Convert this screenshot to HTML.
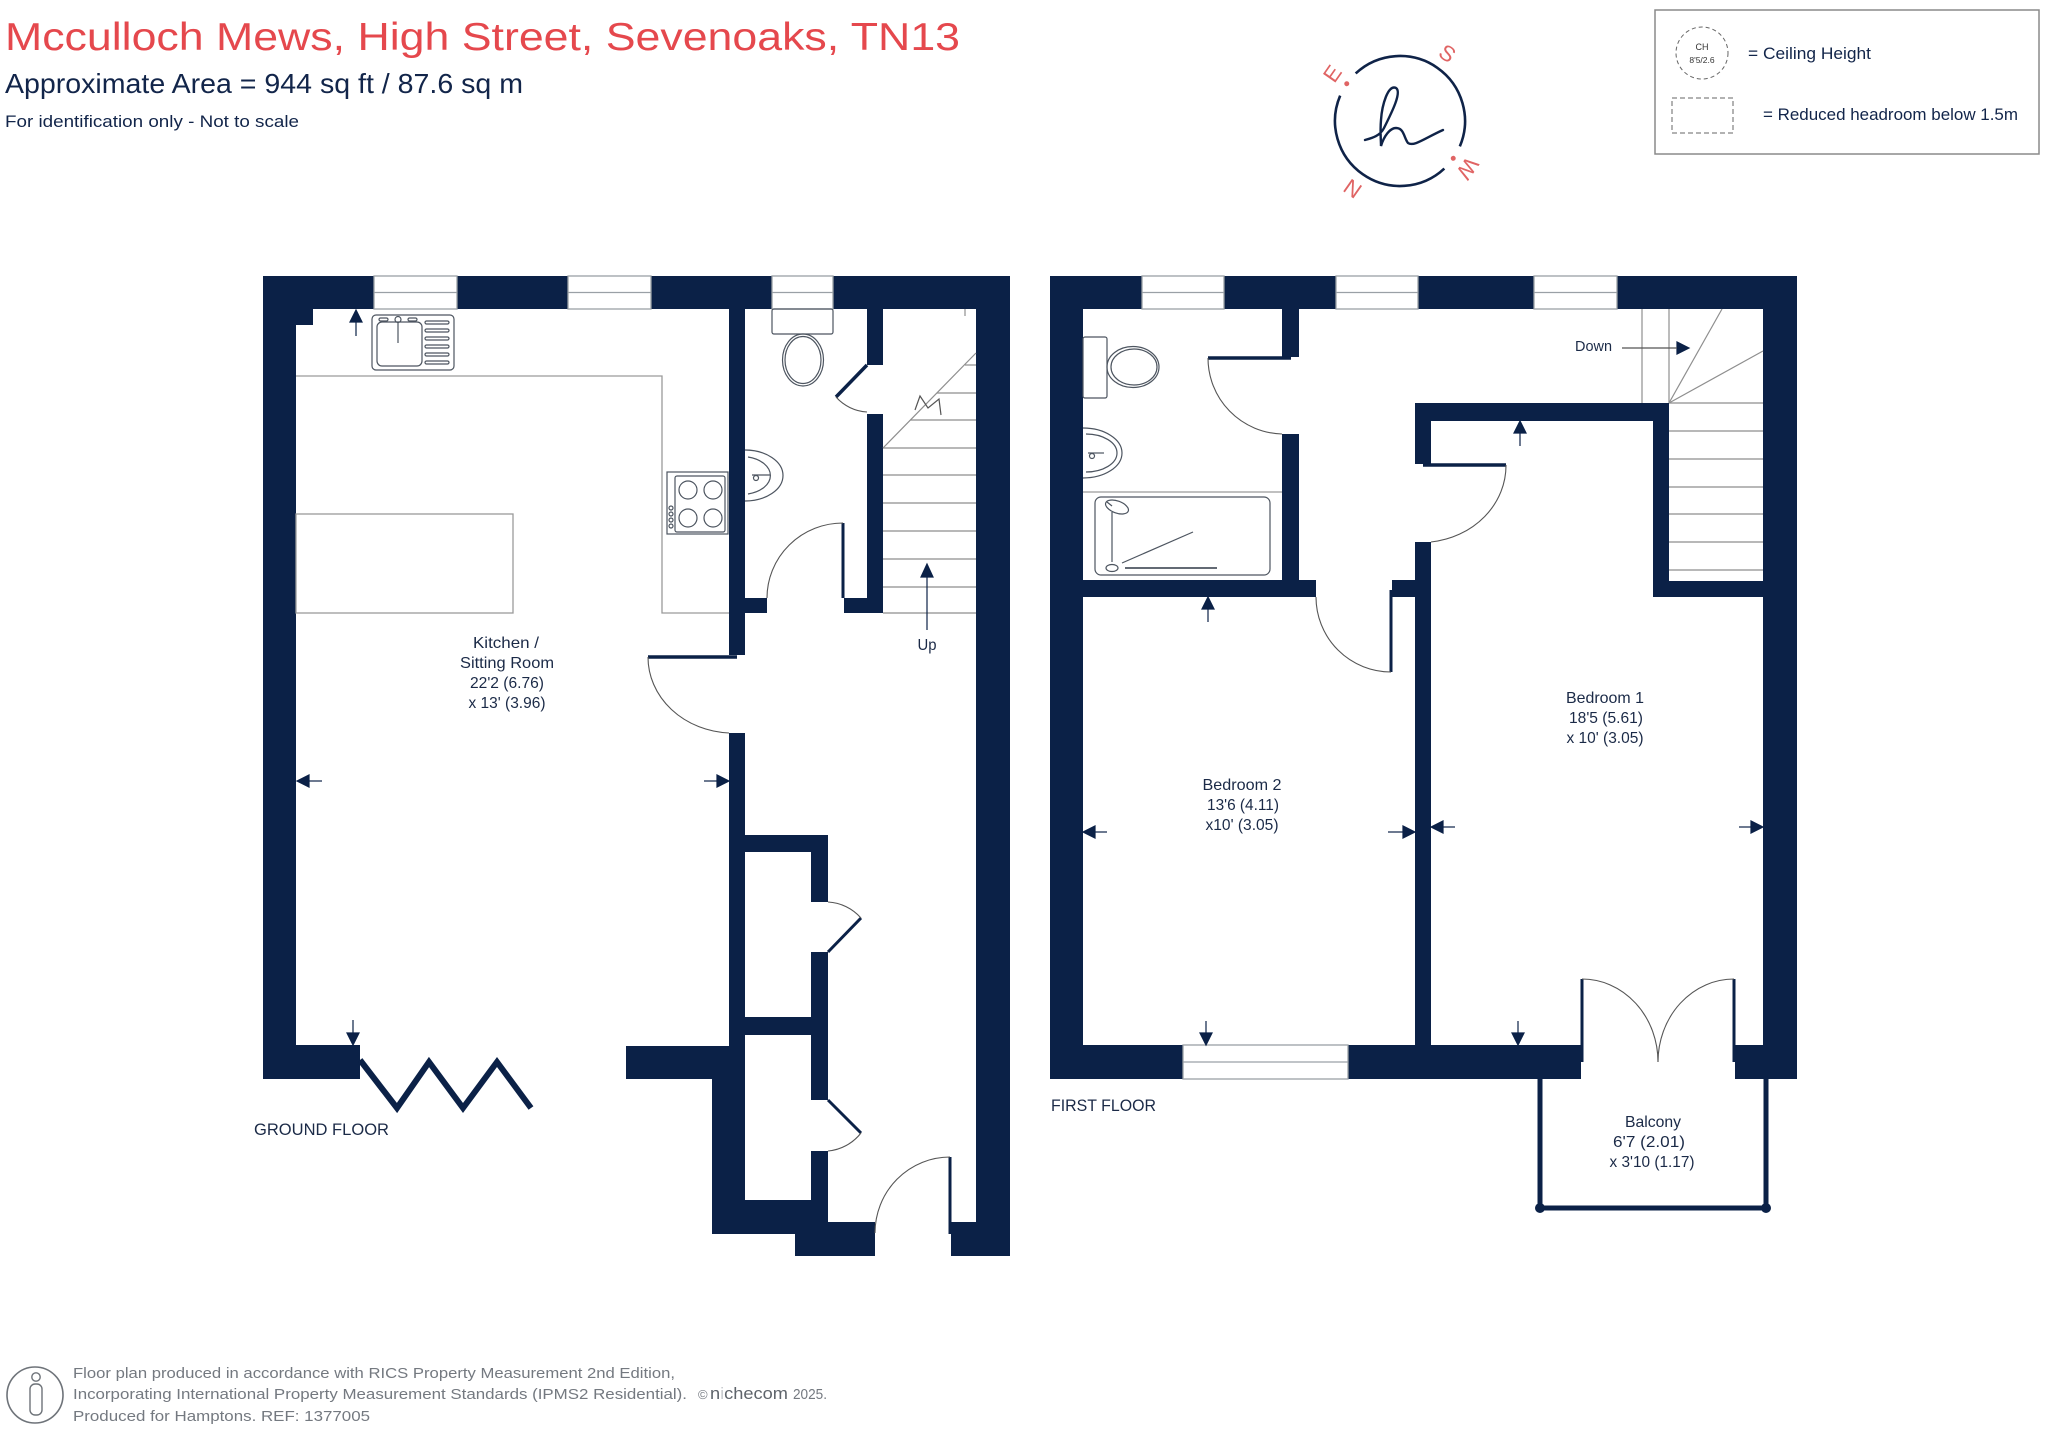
<!DOCTYPE html>
<html>
<head>
<meta charset="utf-8">
<style>
html,body{margin:0;padding:0;background:#fff;}
svg{display:block;}
</style>
</head>
<body>
<svg width="2048" height="1430" viewBox="0 0 2048 1430" xmlns="http://www.w3.org/2000/svg" font-family="'Liberation Sans', sans-serif">
<rect x="0" y="0" width="2048" height="1430" fill="#fff"/>

<!-- ===== HEADER ===== -->
<text x="5" y="50" font-size="39" fill="#e5484d" textLength="955" lengthAdjust="spacingAndGlyphs">Mcculloch Mews, High Street, Sevenoaks, TN13</text>
<text x="5" y="93" font-size="28" fill="#12254a" textLength="518" lengthAdjust="spacingAndGlyphs">Approximate Area = 944  sq ft / 87.6  sq m</text>
<text x="5" y="127" font-size="17" fill="#12254a" textLength="294" lengthAdjust="spacingAndGlyphs">For identification only - Not to scale</text>

<!-- ===== COMPASS ===== -->
<g transform="rotate(215 1400 121)">
  <path d="M1463.58,134.51 A65,65 0 0 1 1336.42,134.51" fill="none" stroke="#0f2348" stroke-width="2.6"/>
  <path d="M1336.42,107.49 A65,65 0 0 1 1463.58,107.49" fill="none" stroke="#0f2348" stroke-width="2.6"/>
  <circle cx="1465" cy="121" r="2.5" fill="#e06464"/>
  <circle cx="1335" cy="121" r="2.5" fill="#e06464"/>
  <text x="1400" y="46" font-size="22" fill="#e06464" text-anchor="middle">N</text>
  <text x="1400" y="212" font-size="22" fill="#e06464" text-anchor="middle" transform="rotate(180 1400 204)">S</text>
  <text x="1483" y="129" font-size="22" fill="#e06464" text-anchor="middle" transform="rotate(90 1483 121)">E</text>
  <text x="1317" y="129" font-size="22" fill="#e06464" text-anchor="middle" transform="rotate(-90 1317 121)">W</text>
</g>
<path d="M1365,140 C1372,138 1380,136 1384,128 C1392,112 1402,92 1396,88 C1388,84 1382,105 1381,120 C1380,132 1381,140 1381,146 C1384,136 1390,128 1396,128 C1404,128 1404,138 1408,143 C1414,147 1425,138 1443,130" fill="none" stroke="#0f2348" stroke-width="2.4" stroke-linecap="round"/>

<!-- ===== LEGEND ===== -->
<rect x="1655" y="10" width="384" height="144" fill="none" stroke="#8a8a8a" stroke-width="1.5"/>
<circle cx="1702" cy="53" r="26" fill="none" stroke="#666" stroke-width="1" stroke-dasharray="4,3"/>
<text x="1702" y="50" font-size="9" fill="#333" text-anchor="middle">CH</text>
<text x="1702" y="63" font-size="8.5" fill="#333" text-anchor="middle">8'5/2.6</text>
<text x="1748" y="59" font-size="17" fill="#12254a" textLength="123" lengthAdjust="spacingAndGlyphs">= Ceiling Height</text>
<rect x="1672" y="98" width="61" height="35" fill="none" stroke="#666" stroke-width="1" stroke-dasharray="5,3"/>
<text x="1763" y="120" font-size="17" fill="#12254a" textLength="255" lengthAdjust="spacingAndGlyphs">= Reduced headroom below 1.5m</text>

<!-- ===== GROUND FLOOR WALLS ===== -->
<g fill="#0b2147">
  <rect x="263" y="276" width="747" height="33"/>
  <rect x="263" y="276" width="33" height="803"/>
  <rect x="296" y="309" width="17" height="16"/>
  <rect x="263" y="1045" width="97" height="34"/>
  <rect x="976" y="276" width="34" height="980"/>
  <rect x="729" y="309" width="16" height="346"/>
  <rect x="745" y="598" width="22" height="15"/>
  <rect x="844" y="598" width="39" height="15"/>
  <rect x="867" y="309" width="16" height="56"/>
  <rect x="867" y="414" width="16" height="199"/>
  <rect x="729" y="733" width="16" height="501"/>
  <rect x="626" y="1046" width="103" height="33"/>
  <rect x="712" y="1046" width="17" height="188"/>
  <rect x="745" y="835" width="83" height="17"/>
  <rect x="811" y="852" width="17" height="50"/>
  <rect x="811" y="952" width="17" height="65"/>
  <rect x="745" y="1017" width="83" height="18"/>
  <rect x="811" y="1035" width="17" height="65"/>
  <rect x="811" y="1151" width="17" height="71"/>
  <rect x="712" y="1200" width="116" height="34"/>
  <rect x="795" y="1222" width="80" height="34"/>
  <rect x="951" y="1222" width="59" height="34"/>
</g>
<!-- ground floor windows -->
<g fill="#fff" stroke="#9aa0a6" stroke-width="1.3">
  <rect x="374" y="276" width="83" height="33"/>
  <line x1="374" y1="292.5" x2="457" y2="292.5"/>
  <rect x="568" y="276" width="83" height="33"/>
  <line x1="568" y1="292.5" x2="651" y2="292.5"/>
  <rect x="772" y="276" width="61" height="33"/>
  <line x1="772" y1="292.5" x2="833" y2="292.5"/>
</g>

<!-- ground floor kitchen fittings -->
<g fill="none" stroke="#9a9a9a" stroke-width="1.3">
  <polyline points="296,376 662,376 662,613 729,613"/>
  <rect x="296" y="514" width="217" height="99"/>
</g>
<!-- sink -->
<g fill="none" stroke="#4d5560" stroke-width="1.2">
  <rect x="372" y="315" width="82" height="55" rx="4"/>
  <rect x="377" y="322" width="45" height="44" rx="5"/>
  <rect x="425" y="321" width="24" height="3" rx="1.5"/>
  <rect x="425" y="329" width="24" height="3" rx="1.5"/>
  <rect x="425" y="337" width="24" height="3" rx="1.5"/>
  <rect x="425" y="345" width="24" height="3" rx="1.5"/>
  <rect x="425" y="353" width="24" height="3" rx="1.5"/>
  <rect x="425" y="361" width="24" height="3" rx="1.5"/>
  <rect x="379" y="318" width="9" height="3" rx="1.5"/>
  <rect x="408" y="318" width="9" height="3" rx="1.5"/>
  <circle cx="398" cy="319.5" r="3"/>
  <line x1="398" y1="322" x2="398" y2="343"/>
</g>
<!-- hob -->
<g fill="none" stroke="#4d5560" stroke-width="1.2">
  <rect x="667" y="472" width="61" height="62"/>
  <rect x="675" y="476" width="50" height="56" rx="2"/>
  <ellipse cx="688" cy="490" rx="9" ry="9"/>
  <ellipse cx="713" cy="490" rx="9" ry="9"/>
  <ellipse cx="688" cy="518" rx="9" ry="9"/>
  <ellipse cx="713" cy="518" rx="9" ry="9"/>
  <circle cx="671" cy="508" r="2"/>
  <circle cx="671" cy="514" r="2"/>
  <circle cx="671" cy="520" r="2"/>
  <circle cx="671" cy="526" r="2"/>
</g>
<!-- WC toilet & basin -->
<g fill="none" stroke="#4d5560" stroke-width="1.2">
  <rect x="772" y="309" width="61" height="25" rx="2"/>
  <ellipse cx="803" cy="360" rx="20.5" ry="26"/>
  <ellipse cx="803" cy="360" rx="18" ry="23.5"/>
  <path d="M745,450 A38,25.5 0 0 1 745,501"/>
  <path d="M748,457 A29,19 0 0 1 748,494"/>
  <line x1="752" y1="475" x2="770" y2="475"/>
  <circle cx="756" cy="478" r="2.5"/>
</g>
<!-- ground floor stairs -->
<g fill="none" stroke="#8e8e8e" stroke-width="1.2">
  <line x1="883" y1="448" x2="976" y2="448"/>
  <line x1="883" y1="475" x2="976" y2="475"/>
  <line x1="883" y1="503" x2="976" y2="503"/>
  <line x1="883" y1="531" x2="976" y2="531"/>
  <line x1="883" y1="559" x2="976" y2="559"/>
  <line x1="883" y1="587" x2="976" y2="587"/>
  <line x1="883" y1="613" x2="976" y2="613"/>
  <line x1="883" y1="448" x2="976" y2="353"/>
  <line x1="937" y1="393" x2="976" y2="393"/>
  <line x1="910" y1="420" x2="976" y2="420"/>
  <line x1="965" y1="365" x2="976" y2="365"/>
  <line x1="965" y1="309" x2="965" y2="316"/>
  <polyline points="915,410 920,396 928,408 939,399 941,415" stroke="#555"/>
</g>

<!-- ground floor doors -->
<g fill="none" stroke="#0b2147">
  <line x1="843" y1="523" x2="843" y2="598" stroke-width="3"/>
  <path d="M767,598 A76,75 0 0 1 843,523" stroke="#555" stroke-width="1.1"/>
  <line x1="867" y1="365" x2="836" y2="397" stroke-width="3.5"/>
  <path d="M836,397 A45,45 0 0 0 867,412" stroke="#555" stroke-width="1.1"/>
  <line x1="737" y1="657" x2="648" y2="657" stroke-width="3.5"/>
  <path d="M648,657 A85,76 0 0 0 729,733" stroke="#555" stroke-width="1.1"/>
  <line x1="828" y1="952" x2="861" y2="918" stroke-width="3"/>
  <path d="M861,918 A48,50 0 0 0 828,902" stroke="#555" stroke-width="1.1"/>
  <line x1="828" y1="1100" x2="861" y2="1133" stroke-width="3"/>
  <path d="M861,1133 A48,51 0 0 1 828,1151" stroke="#555" stroke-width="1.1"/>
  <line x1="950" y1="1157" x2="950" y2="1234" stroke-width="3"/>
  <path d="M950,1157 A75,76 0 0 0 875,1233" stroke="#555" stroke-width="1.1"/>
  <polyline points="360,1060 397,1108 429,1062 463,1108 497,1062 531,1108" stroke-width="6" stroke-linejoin="miter"/>
</g>

<!-- ground floor arrows -->
<g fill="#0b2147" stroke="#0b2147" stroke-width="1.2">
  <!-- sink up -->
  <polygon points="356,310 350,322 362,322"/><line x1="356" y1="322" x2="356" y2="336"/>
  <!-- stairs up -->
  <polygon points="927,564 921,577 933,577"/><line x1="927" y1="577" x2="927" y2="630"/>
  <!-- kitchen left -->
  <polygon points="297,781 309,775 309,787"/><line x1="309" y1="781" x2="322" y2="781"/>
  <!-- kitchen right -->
  <polygon points="729,781 717,775 717,787"/><line x1="704" y1="781" x2="717" y2="781"/>
  <!-- kitchen down -->
  <polygon points="353,1045 347,1033 359,1033"/><line x1="353" y1="1020" x2="353" y2="1033"/>
</g>

<!-- ground floor labels -->
<g fill="#1b2a47" font-size="16" text-anchor="middle">
  <text x="506" y="648" textLength="66" lengthAdjust="spacingAndGlyphs">Kitchen /</text>
  <text x="507" y="668" textLength="94" lengthAdjust="spacingAndGlyphs">Sitting Room</text>
  <text x="507" y="688" textLength="74" lengthAdjust="spacingAndGlyphs">22'2 (6.76)</text>
  <text x="507" y="708" textLength="77" lengthAdjust="spacingAndGlyphs">x 13' (3.96)</text>
  <text x="927" y="650" textLength="19" lengthAdjust="spacingAndGlyphs">Up</text>
</g>
<text x="254" y="1135" font-size="17" fill="#1b2a47" textLength="135" lengthAdjust="spacingAndGlyphs">GROUND FLOOR</text>

<!-- ===== FIRST FLOOR WALLS ===== -->
<g fill="#0b2147">
  <rect x="1050" y="276" width="747" height="33"/>
  <rect x="1050" y="276" width="33" height="803"/>
  <rect x="1763" y="276" width="34" height="803"/>
  <rect x="1050" y="1045" width="531" height="34"/>
  <rect x="1735" y="1045" width="62" height="34"/>
  <rect x="1282" y="309" width="17" height="48"/>
  <rect x="1282" y="434" width="17" height="146"/>
  <rect x="1050" y="580" width="266" height="17"/>
  <rect x="1392" y="580" width="23" height="17"/>
  <rect x="1415" y="403" width="254" height="18"/>
  <rect x="1415" y="403" width="16" height="61"/>
  <rect x="1415" y="542" width="16" height="503"/>
  <rect x="1653" y="403" width="16" height="194"/>
  <rect x="1653" y="581" width="110" height="16"/>
</g>
<g fill="#fff" stroke="#9aa0a6" stroke-width="1.3">
  <rect x="1142" y="276" width="82" height="33"/>
  <line x1="1142" y1="292.5" x2="1224" y2="292.5"/>
  <rect x="1336" y="276" width="82" height="33"/>
  <line x1="1336" y1="292.5" x2="1418" y2="292.5"/>
  <rect x="1534" y="276" width="83" height="33"/>
  <line x1="1534" y1="292.5" x2="1617" y2="292.5"/>
  <rect x="1183" y="1045" width="165" height="34"/>
  <line x1="1183" y1="1062" x2="1348" y2="1062"/>
</g>

<!-- bathroom fittings -->
<g fill="none" stroke="#4d5560" stroke-width="1.2">
  <rect x="1083" y="337" width="24" height="61" rx="2"/>
  <ellipse cx="1133" cy="367" rx="26" ry="20.5"/>
  <ellipse cx="1134" cy="367" rx="23" ry="18"/>
  <path d="M1083,428 A39,25 0 0 1 1083,478"/>
  <path d="M1086,434 A31,19 0 0 1 1086,472"/>
  <line x1="1088" y1="453" x2="1104" y2="453"/>
  <circle cx="1092" cy="456" r="2.5"/>
  <line x1="1083" y1="492" x2="1282" y2="492" stroke="#9a9a9a"/>
  <rect x="1095" y="497" width="175" height="78" rx="6"/>
  <ellipse cx="1117" cy="507" rx="12" ry="6" transform="rotate(20 1117 507)"/>
  <line x1="1107" y1="502" x2="1112" y2="506"/>
  <line x1="1112" y1="512" x2="1112" y2="562"/>
  <line x1="1122" y1="563" x2="1193" y2="532"/>
  <line x1="1125" y1="568" x2="1217" y2="568" stroke-width="1.8"/>
  <ellipse cx="1112" cy="568" rx="6" ry="3.5"/>
</g>

<!-- first floor stairs -->
<g fill="none" stroke="#8e8e8e" stroke-width="1.2">
  <line x1="1642" y1="309" x2="1642" y2="403"/>
  <line x1="1669" y1="309" x2="1669" y2="403"/>
  <line x1="1669" y1="403" x2="1722" y2="309"/>
  <line x1="1669" y1="403" x2="1763" y2="351"/>
  <line x1="1669" y1="403" x2="1763" y2="403"/>
  <line x1="1669" y1="431" x2="1763" y2="431"/>
  <line x1="1669" y1="459" x2="1763" y2="459"/>
  <line x1="1669" y1="487" x2="1763" y2="487"/>
  <line x1="1669" y1="514" x2="1763" y2="514"/>
  <line x1="1669" y1="542" x2="1763" y2="542"/>
  <line x1="1669" y1="570" x2="1763" y2="570"/>
</g>

<!-- first floor doors -->
<g fill="none" stroke="#0b2147">
  <line x1="1291" y1="358" x2="1208" y2="358" stroke-width="3.5"/>
  <path d="M1208,358 A76,76 0 0 0 1282,434" stroke="#555" stroke-width="1.1"/>
  <line x1="1423" y1="465" x2="1506" y2="465" stroke-width="3.5"/>
  <path d="M1506,465 A85,77 0 0 1 1431,542" stroke="#555" stroke-width="1.1"/>
  <line x1="1391" y1="590" x2="1391" y2="672" stroke-width="3"/>
  <path d="M1316,597 A75,75 0 0 0 1391,672" stroke="#555" stroke-width="1.1"/>
  <line x1="1582" y1="979" x2="1582" y2="1062" stroke-width="3"/>
  <line x1="1734" y1="979" x2="1734" y2="1062" stroke-width="3"/>
  <path d="M1582,979 A76,83 0 0 1 1658,1062" stroke="#555" stroke-width="1.1"/>
  <path d="M1734,979 A76,83 0 0 0 1658,1062" stroke="#555" stroke-width="1.1"/>
</g>

<!-- balcony -->
<g stroke="#0b2147" stroke-width="5" fill="none">
  <line x1="1540" y1="1079" x2="1540" y2="1208"/>
  <line x1="1766" y1="1079" x2="1766" y2="1208"/>
  <line x1="1540" y1="1208" x2="1766" y2="1208"/>
</g>
<circle cx="1540" cy="1208" r="5" fill="#0b2147"/>
<circle cx="1766" cy="1208" r="5" fill="#0b2147"/>

<!-- first floor arrows -->
<g fill="#0b2147" stroke="#0b2147" stroke-width="1.2">
  <polygon points="1208,597 1202,609 1214,609"/><line x1="1208" y1="609" x2="1208" y2="622"/>
  <polygon points="1520,421 1514,433 1526,433"/><line x1="1520" y1="433" x2="1520" y2="446"/>
  <polygon points="1083,832 1095,826 1095,838"/><line x1="1095" y1="832" x2="1107" y2="832"/>
  <polygon points="1415,832 1403,826 1403,838"/><line x1="1388" y1="832" x2="1403" y2="832"/>
  <polygon points="1431,827 1443,821 1443,833"/><line x1="1443" y1="827" x2="1455" y2="827"/>
  <polygon points="1763,827 1751,821 1751,833"/><line x1="1739" y1="827" x2="1751" y2="827"/>
  <polygon points="1206,1045 1200,1033 1212,1033"/><line x1="1206" y1="1021" x2="1206" y2="1033"/>
  <polygon points="1518,1045 1512,1033 1524,1033"/><line x1="1518" y1="1021" x2="1518" y2="1033"/>
  <polygon points="1689,348 1677,342 1677,354"/><line x1="1622" y1="348" x2="1677" y2="348" stroke="#555"/>
</g>

<!-- first floor labels -->
<g fill="#1b2a47" font-size="16" text-anchor="middle">
  <text x="1605" y="703" textLength="78" lengthAdjust="spacingAndGlyphs">Bedroom 1</text>
  <text x="1606" y="723" textLength="74" lengthAdjust="spacingAndGlyphs">18'5 (5.61)</text>
  <text x="1605" y="743" textLength="77" lengthAdjust="spacingAndGlyphs">x 10' (3.05)</text>
  <text x="1242" y="790" textLength="79" lengthAdjust="spacingAndGlyphs">Bedroom 2</text>
  <text x="1243" y="810" textLength="72" lengthAdjust="spacingAndGlyphs">13'6 (4.11)</text>
  <text x="1242" y="830" textLength="73" lengthAdjust="spacingAndGlyphs">x10' (3.05)</text>
  <text x="1653" y="1127" textLength="56" lengthAdjust="spacingAndGlyphs">Balcony</text>
  <text x="1649" y="1147" textLength="72" lengthAdjust="spacingAndGlyphs">6'7 (2.01)</text>
  <text x="1652" y="1167" textLength="85" lengthAdjust="spacingAndGlyphs">x 3'10 (1.17)</text>
</g>
<text x="1575" y="351" font-size="15" fill="#1b2a47" textLength="37" lengthAdjust="spacingAndGlyphs">Down</text>
<text x="1051" y="1111" font-size="17" fill="#1b2a47" textLength="105" lengthAdjust="spacingAndGlyphs">FIRST FLOOR</text>

<!-- ===== FOOTER ===== -->
<circle cx="35" cy="1395" r="28" fill="none" stroke="#6e7379" stroke-width="1.6"/>
<circle cx="36" cy="1377" r="4.2" fill="none" stroke="#6e7379" stroke-width="1.4"/>
<rect x="30" y="1384" width="12" height="31" rx="5" fill="none" stroke="#6e7379" stroke-width="1.4"/>
<g fill="#747980" font-size="14.5">
  <text x="73" y="1378" textLength="602" lengthAdjust="spacingAndGlyphs">Floor plan produced in accordance with RICS Property Measurement 2nd Edition,</text>
  <text x="73" y="1399" textLength="614" lengthAdjust="spacingAndGlyphs">Incorporating International Property Measurement Standards (IPMS2 Residential).</text>
  <text x="73" y="1421" textLength="297" lengthAdjust="spacingAndGlyphs">Produced for Hamptons.  REF:  1377005</text>
  <text x="698" y="1399" font-size="13">©</text>
  <text x="710" y="1399" font-size="17" fill="#5e646b" textLength="78" lengthAdjust="spacingAndGlyphs">n<tspan fill="#c8cbcf">i</tspan>checom</text>
  <text x="793" y="1399" textLength="34" lengthAdjust="spacingAndGlyphs">2025.</text>
</g>
</svg>
</body>
</html>
